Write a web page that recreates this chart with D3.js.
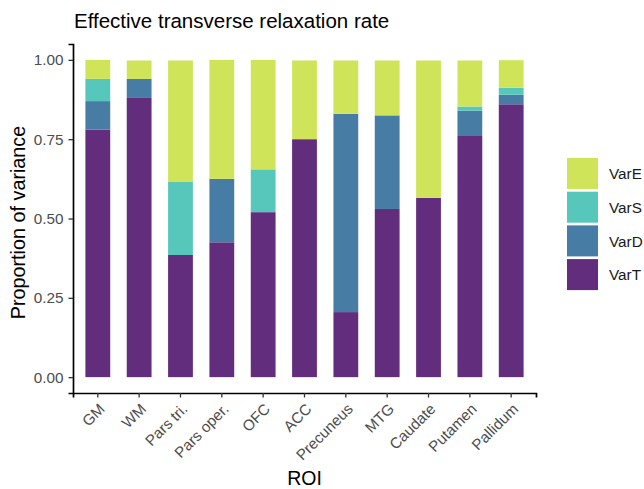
<!DOCTYPE html>
<html>
<head>
<meta charset="utf-8">
<script src="https://cdn.jsdelivr.net/npm/d3@7"></script>
<style>
  body { margin: 0; background: #fff; }
  text { font-family: "Liberation Sans", Arial, sans-serif; }
</style>
</head>
<body>
<script>
// data
var rois = ["GM", "WM", "Pars tri.", "Pars oper.", "OFC", "ACC", "Precuneus", "MTG", "Caudate", "Putamen", "Pallidum"];
var varT = [0.78, 0.88, 0.385, 0.425, 0.52, 0.75, 0.205, 0.53, 0.565, 0.76, 0.86];
var varD = [0.09, 0.06, 0, 0.20, 0, 0, 0.625, 0.295, 0, 0.08, 0.03];
var varS = [0.07, 0, 0.23, 0, 0.135, 0, 0, 0, 0, 0.013, 0.022];
var varE = [0.06, 0.058, 0.383, 0.375, 0.345, 0.248, 0.168, 0.173, 0.433, 0.145, 0.087];
var yTicks = [0, 0.25, 0.5, 0.75, 1];

var keys = ["VarT", "VarD", "VarS", "VarE"];
var colors = { VarE: "#cfe459", VarS: "#58c7bb", VarD: "#477ca5", VarT: "#622d7c" };

var rows = rois.map(function(r, i) {
  return { roi: r, VarT: varT[i], VarD: varD[i], VarS: varS[i], VarE: varE[i] };
});

var svgWidth = 644, svgHeight = 489;
var panel = { left: 73, right: 536, top: 44, bottom: 393 };

var svg = d3.select("body").append("svg")
    .attr("width", svgWidth)
    .attr("height", svgHeight);

var xScale = d3.scaleBand()
    .domain(rois)
    .range([panel.left, panel.right])
    .paddingInner(0.4)
    .paddingOuter(0.3);

var yScale = d3.scaleLinear()
    .domain([-0.05, 1.05])
    .range([panel.bottom, panel.top]);

var stacked = d3.stack().keys(keys)(rows);

// bars
svg.append("g").selectAll("g")
    .data(stacked)
    .enter()
    .append("g")
    .attr("fill", d => colors[d.key])
    .selectAll("rect")
    .data(d => d)
    .enter()
    .append("rect")
    .attr("x", d => xScale(d.data.roi))
    .attr("y", d => yScale(d[1]))
    .attr("width", xScale.bandwidth())
    .attr("height", d => Math.max(0, yScale(d[0]) - yScale(d[1])));

// y axis
var yAxis = d3.axisLeft(yScale)
    .tickValues(yTicks)
    .tickFormat(d3.format(".2f"))
    .tickSizeOuter(0)
    .tickSize(4.5)
    .tickPadding(5);

var yG = svg.append("g")
    .attr("transform", `translate(${panel.left}, 0)`)
    .call(yAxis);
yG.select(".domain").attr("stroke", "#000").attr("stroke-width", 1.7);
yG.selectAll(".tick line").attr("stroke", "#333").attr("stroke-width", 1.3);
yG.selectAll(".tick text")
    .attr("fill", "#4d4d4d")
    .style("font-size", "15.3px");

// x axis
var xAxis = d3.axisBottom(xScale)
    .tickSizeOuter(0)
    .tickSize(4.5);

var xG = svg.append("g")
    .attr("transform", `translate(0, ${panel.bottom})`)
    .call(xAxis);
xG.select(".domain").attr("stroke", "#000").attr("stroke-width", 1.7);
xG.selectAll(".tick line").attr("stroke", "#333").attr("stroke-width", 1.3);
xG.selectAll(".tick text")
    .attr("fill", "#4d4d4d")
    .style("font-size", "15.2px")
    .attr("text-anchor", "end")
    .attr("x", 0)
    .attr("y", 0)
    .attr("dy", "0.74em")
    .attr("transform", "translate(0, 9) rotate(-45)");

// titles
svg.append("text")
    .attr("x", 74)
    .attr("y", 28)
    .style("font-size", "20.5px")
    .attr("fill", "#000")
    .text("Effective transverse relaxation rate");

svg.append("text")
    .attr("x", (panel.left + panel.right) / 2)
    .attr("y", 485)
    .attr("text-anchor", "middle")
    .style("font-size", "19.5px")
    .attr("fill", "#000")
    .text("ROI");

svg.append("text")
    .attr("transform", `translate(25, ${(yScale(0) + yScale(1)) / 2 + 4}) rotate(-90)`)
    .attr("text-anchor", "middle")
    .style("font-size", "19.8px")
    .attr("fill", "#000")
    .text("Proportion of variance");

// legend
var legendKeys = ["VarE", "VarS", "VarD", "VarT"];
var legend = svg.append("g").attr("transform", "translate(567, 158)");
var item = legend.selectAll("g")
    .data(legendKeys)
    .enter()
    .append("g")
    .attr("transform", (d, i) => `translate(0, ${i * 33.7})`);
item.append("rect")
    .attr("width", 31)
    .attr("height", 31)
    .attr("fill", d => colors[d]);
item.append("text")
    .attr("x", 42)
    .attr("y", 16)
    .attr("dy", "0.35em")
    .style("font-size", "15.3px")
    .attr("fill", "#1a1a1a")
    .text(d => d);
</script>
</body>
</html>
